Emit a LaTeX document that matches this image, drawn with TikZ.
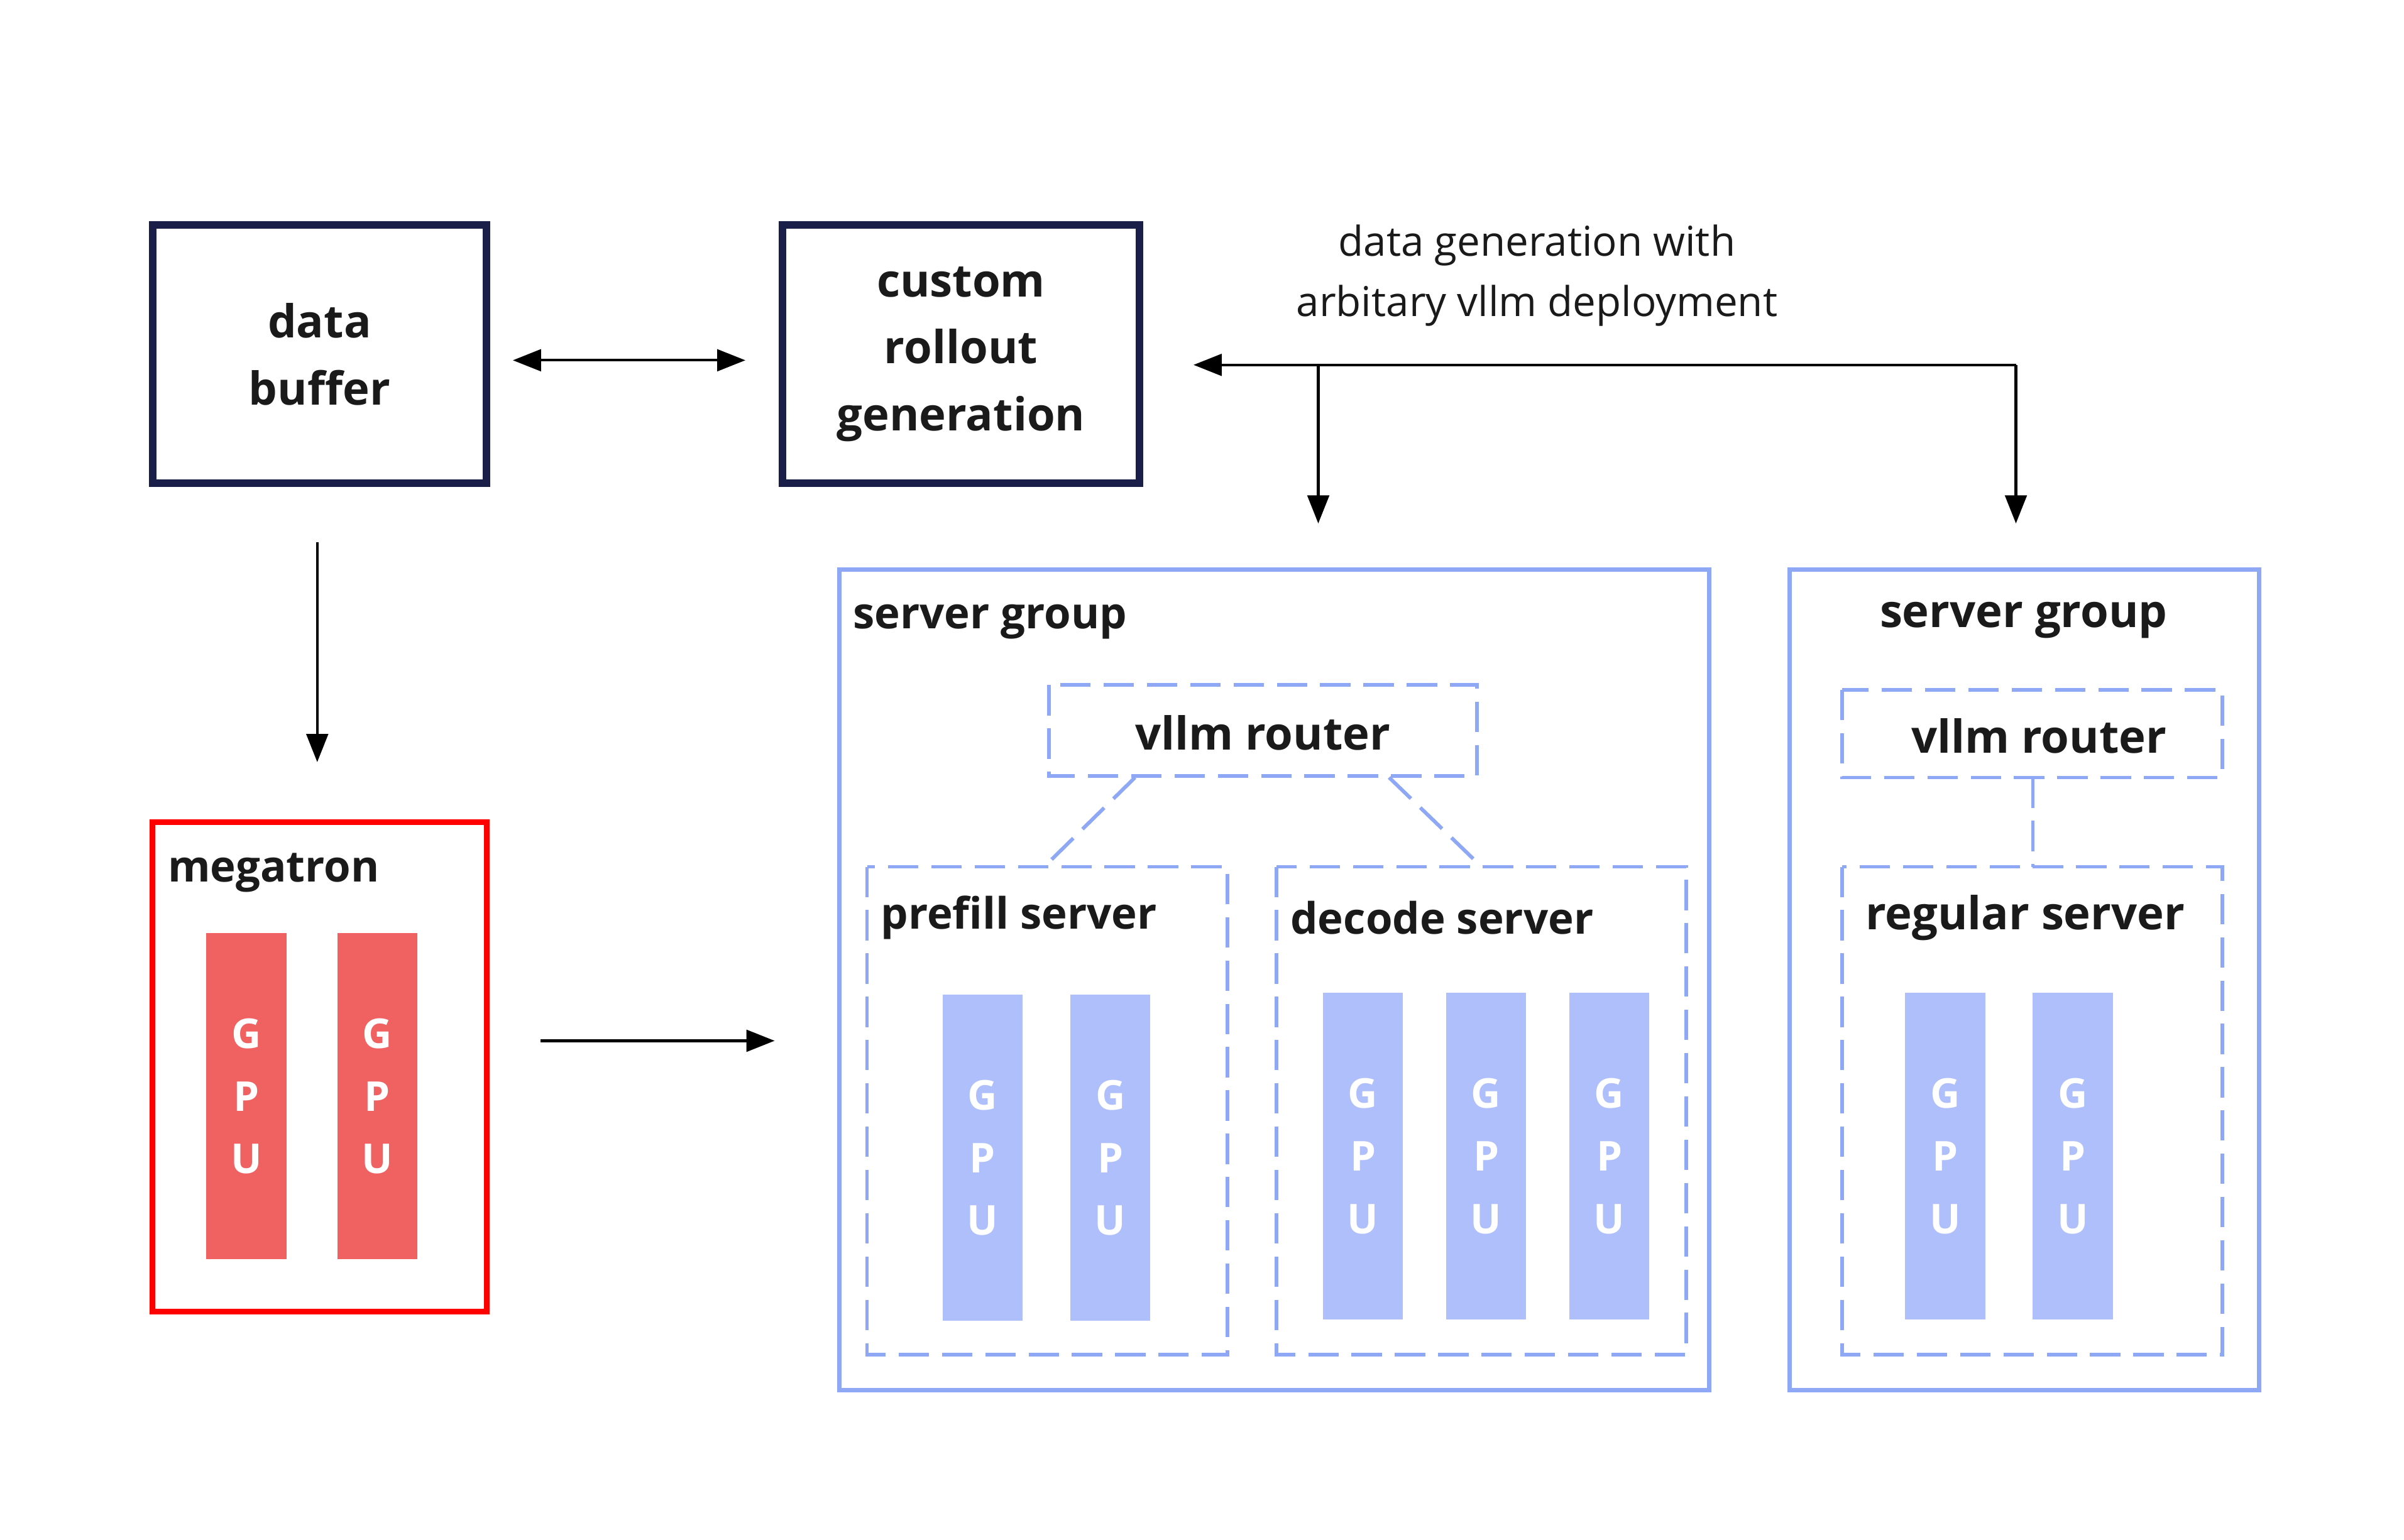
\documentclass[tikz,border=0pt]{standalone}
\usepackage{fontspec}
\setmainfont{Open Sans}
\usetikzlibrary{arrows.meta}
\begin{document}
\begin{tikzpicture}[x=0.025cm,y=-0.025cm,
  navy/.style={draw=navybox,line width=3.5pt},
  grp/.style={draw=bluel,line width=2pt},
  dsh/.style={draw=bluel,line width=1.7pt,dash pattern=on 14pt off 6pt},
  gpub/.style={fill=gpublue,draw=none},
  gpur/.style={fill=gpured,draw=none},
  arr/.style={-{Triangle[length=13pt,width=10pt]},line width=1.2pt},
  big/.style={font=\fontsize{21}{31}\selectfont\bfseries,text=txt,align=center},
  lbl/.style={font=\fontsize{20}{26}\selectfont\bfseries,text=txt,anchor=west},
  g/.style={font=\fontsize{19}{29}\selectfont\bfseries,text=white,align=center}]
\definecolor{navybox}{HTML}{1A1F4A}
\definecolor{bluel}{HTML}{8FA8F5}
\definecolor{gpublue}{HTML}{AEBFFB}
\definecolor{gpured}{HTML}{F06262}
\definecolor{txt}{HTML}{1A1A1A}
\useasboundingbox (0,0) rectangle (1561,1000);
% top boxes
\draw[navy] (99,146) rectangle (316,314);
\node[big] (db) at (207.5,230) {data\\buffer};
\draw[navy] (508,146) rectangle (740,314);
\node[big] (cr) at (624,230) {custom\\rollout\\generation};
\coordinate (a1) at (333,234); \coordinate (a2) at (484,234);
\draw[{Triangle[length=13pt,width=10pt]}-{Triangle[length=13pt,width=10pt]},line width=1.2pt] (a1) -- (a2);
\node[font=\fontsize{19}{28}\selectfont,text=txt,align=center] (dl) at (998,179) {data generation with\\arbitary vllm deployment};
\coordinate (t0) at (775,237); \coordinate (t1) at (856,237); \coordinate (t2) at (1309,237);
\coordinate (d1) at (856,340); \coordinate (d2) at (1309,340);
\draw[arr] (t2) -- (t0);
\draw[arr] (t1) -- (d1);
\draw[arr] (t2) -- (d2);
\coordinate (m0) at (206,352); \coordinate (m1) at (206,495);
\draw[arr] (m0) -- (m1);
% megatron
\draw[draw=red,line width=2.5pt] (99,534) rectangle (316,852);
\node[lbl] (mg) at (104,567) {megatron};
\foreach \x in {134,219}{
  \fill[gpur] (\x,606) rectangle (\x+52,818);
  \node[g] at (\x+26,712) {G\\P\\U};}
\coordinate (r0) at (351,676); \coordinate (r1) at (503,676);
\draw[arr] (r0) -- (r1);
% server group 1
\draw[grp] (545,370) rectangle (1110,903);
\node[lbl] (sg1) at (549,404) {server group};
\draw[dsh] (681,445) rectangle (959,504);
\node[big] (vr1) at (820,476) {vllm router};
\draw[dsh] (563,563) rectangle (797,880);
\node[lbl] (ps) at (567,596) {prefill server};
\draw[dsh] (829,563) rectangle (1095,880);
\node[lbl] (ds) at (833,596) {decode server};
\coordinate (c1) at (737,505); \coordinate (c2) at (678,563);
\coordinate (c3) at (902,505); \coordinate (c4) at (962,563);
\draw[dsh] (c1) -- (c2); \draw[dsh] (c3) -- (c4);
\foreach \x in {612,695}{
  \fill[gpub] (\x,646) rectangle (\x+52,858);
  \node[g] at (\x+26,752) {G\\P\\U};}
\foreach \x in {859,939,1019}{
  \fill[gpub] (\x,645) rectangle (\x+52,857);
  \node[g] at (\x+26,751) {G\\P\\U};}
% server group 2
\draw[grp] (1162,370) rectangle (1467,903);
\node[big] (sg2) at (1314,403) {server group};
\draw[dsh] (1196,448) rectangle (1443,505);
\node[big] (vr2) at (1324,478) {vllm router};
\coordinate (e1) at (1320,505); \coordinate (e2) at (1320,563);
\draw[dsh] (e1) -- (e2);
\draw[dsh] (1196,563) rectangle (1443,880);
\node[big] (rs) at (1315,596) {regular server};
\foreach \x in {1237,1320}{
  \fill[gpub] (\x,645) rectangle (\x+52,857);
  \node[g] at (\x+26,751) {G\\P\\U};}
\end{tikzpicture}
\end{document}
